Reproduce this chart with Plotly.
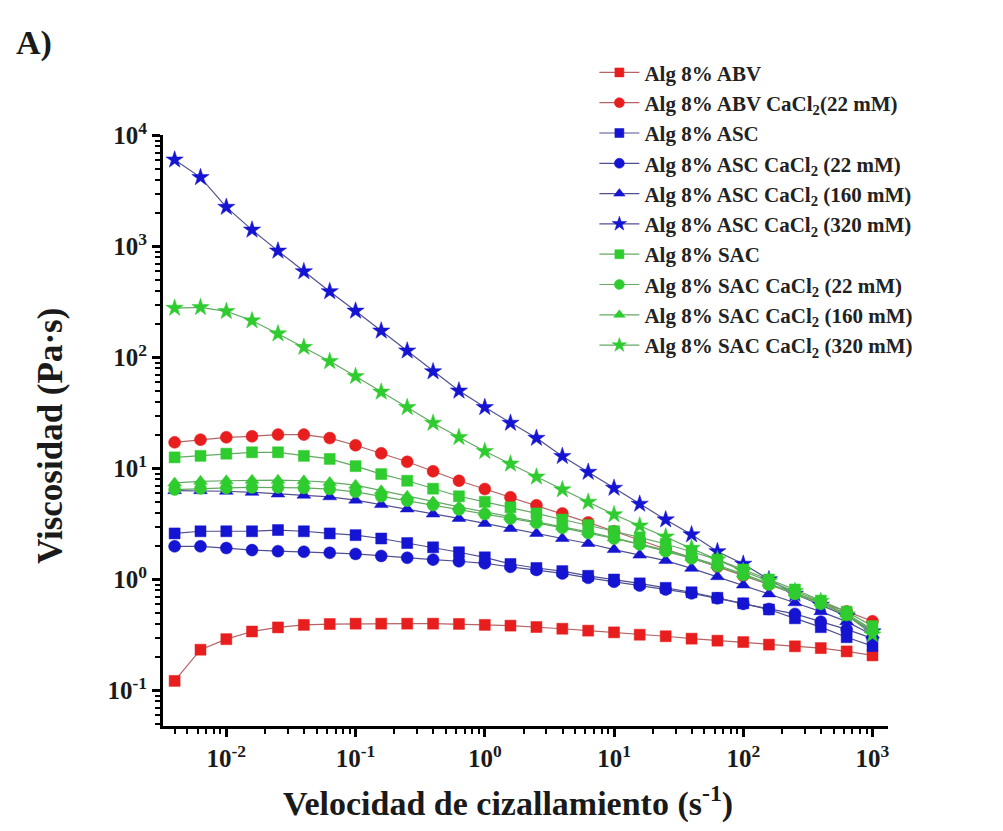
import plotly.graph_objects as go

shear_rate = [0.00398, 0.00631, 0.01, 0.0158, 0.0251, 0.0398, 0.0631, 0.1, 0.158, 0.251,
              0.398, 0.631, 1.0, 1.58, 2.51, 3.98, 6.31, 10, 15.8, 25.1,
              39.8, 63.1, 100, 158, 251, 398, 631, 1000]

abv = [0.122, 0.233, 0.29, 0.34, 0.37, 0.39, 0.397, 0.40, 0.40, 0.40, 0.40, 0.398, 0.39, 0.384,
       0.373, 0.36, 0.346, 0.334, 0.318, 0.308, 0.293, 0.281, 0.273, 0.259, 0.25, 0.241, 0.225, 0.207]
abv_ca22 = [17.2, 18.2, 19.1, 19.5, 20.2, 20.2, 18.8, 16.2, 13.7, 11.5, 9.44, 7.76, 6.53, 5.51,
            4.66, 3.94, 3.27, 2.72, 2.26, 1.88, 1.57, 1.30, 1.08, 0.902, 0.750, 0.624, 0.516, 0.420]
asc = [2.60, 2.72, 2.72, 2.72, 2.79, 2.72, 2.60, 2.51, 2.34, 2.13, 1.95, 1.76, 1.585, 1.38,
       1.27, 1.19, 1.08, 1.0, 0.923, 0.841, 0.767, 0.684, 0.610, 0.537, 0.447, 0.372, 0.302, 0.251]
asc_ca22 = [1.99, 1.99, 1.92, 1.84, 1.80, 1.78, 1.74, 1.70, 1.63, 1.57, 1.51, 1.46, 1.40, 1.30,
            1.22, 1.135, 1.035, 0.955, 0.881, 0.813, 0.750, 0.676, 0.603, 0.543, 0.490, 0.417, 0.355, 0.295]
asc_ca160 = [6.31, 6.31, 6.24, 6.10, 5.89, 5.75, 5.56, 5.19, 4.73, 4.32, 3.89, 3.55, 3.20, 2.88,
             2.60, 2.34, 2.11, 1.86, 1.66, 1.48, 1.26, 1.06, 0.891, 0.741, 0.617, 0.513, 0.417, 0.316]
asc_ca320 = [6050, 4200, 2265, 1413, 914, 596, 394, 263, 174, 115, 74.8, 50.1, 35.6, 25.7,
             18.8, 12.9, 9.29, 6.67, 4.79, 3.46, 2.54, 1.79, 1.38, 1.0, 0.741, 0.589, 0.468, 0.339]
sac = [12.6, 13.0, 13.6, 14.0, 14.0, 13.0, 12.2, 10.5, 8.91, 7.76, 6.58, 5.62, 5.01, 4.47,
       3.94, 3.47, 3.09, 2.72, 2.40, 2.09, 1.78, 1.51, 1.23, 1.0, 0.813, 0.646, 0.513, 0.380]
sac_ca22 = [6.46, 6.61, 6.68, 6.76, 6.76, 6.68, 6.53, 6.17, 5.62, 5.13, 4.68, 4.27, 3.89, 3.55,
            3.24, 2.92, 2.63, 2.34, 2.07, 1.80, 1.55, 1.32, 1.10, 0.902, 0.741, 0.603, 0.479, 0.347]
sac_ca160 = [7.41, 7.67, 7.76, 7.85, 7.85, 7.76, 7.50, 7.08, 6.31, 5.62, 5.01, 4.52, 4.07, 3.67,
             3.31, 2.99, 2.69, 2.37, 2.09, 1.84, 1.585, 1.35, 1.12, 0.923, 0.759, 0.617, 0.490, 0.355]
sac_ca320 = [279, 283, 261, 215, 164, 124, 92.5, 67.8, 49.0, 35.6, 25.7, 19.1, 14.3, 11.0,
             8.41, 6.46, 4.99, 3.85, 3.05, 2.43, 1.92, 1.51, 1.19, 0.964, 0.783, 0.637, 0.482, 0.318]

series_names = [
    "Alg 8% ABV",
    "Alg 8% ABV CaCl<sub>2</sub>(22 mM)",
    "Alg 8% ASC",
    "Alg 8% ASC CaCl<sub>2</sub> (22 mM)",
    "Alg 8% ASC CaCl<sub>2</sub> (160 mM)",
    "Alg 8% ASC CaCl<sub>2</sub> (320 mM)",
    "Alg 8% SAC",
    "Alg 8% SAC CaCl<sub>2</sub> (22 mM)",
    "Alg 8% SAC CaCl<sub>2</sub> (160 mM)",
    "Alg 8% SAC CaCl<sub>2</sub> (320 mM)",
]
series_values = [abv, abv_ca22, asc, asc_ca22, asc_ca160, asc_ca320,
                 sac, sac_ca22, sac_ca160, sac_ca320]

x_tickvals = [0.01, 0.1, 1, 10, 100, 1000]
x_ticktext = ["10<sup>-2</sup>", "10<sup>-1</sup>", "10<sup>0</sup>", "10<sup>1</sup>",
              "10<sup>2</sup>", "10<sup>3</sup>"]
y_tickvals = [0.1, 1, 10, 100, 1000, 10000]
y_ticktext = ["10<sup>-1</sup>", "10<sup>0</sup>", "10<sup>1</sup>", "10<sup>2</sup>",
              "10<sup>3</sup>", "10<sup>4</sup>"]

RED, BLUE, GREEN = "#e81e1e", "#1414d2", "#2ecc2e"
RED_L, BLUE_L, GREEN_L = "#b46464", "#505090", "#64a864"
styles = [
    (RED, RED_L, "square", 11, 9),
    (RED, RED_L, "circle", 12, 10),
    (BLUE, BLUE_L, "square", 11, 9),
    (BLUE, BLUE_L, "circle", 12, 10),
    (BLUE, BLUE_L, "triangle-up", 12, 10),
    (BLUE, BLUE_L, "star", 13, 11),
    (GREEN, GREEN_L, "square", 11, 9),
    (GREEN, GREEN_L, "circle", 12, 10),
    (GREEN, GREEN_L, "triangle-up", 12, 10),
    (GREEN, GREEN_L, "star", 13, 11),
]

FONT = "Liberation Serif, Times New Roman, serif"
TXT = "#1a1a1a"

fig = go.Figure()
for i, (name, vals, (mc, lc, sym, sz, lsz)) in enumerate(zip(series_names, series_values, styles)):
    fig.add_trace(go.Scatter(
        x=shear_rate, y=vals, name=name, mode="lines+markers", legendgroup=f"g{i}",
        showlegend=False,
        line=dict(color=lc, width=1.2),
        marker=dict(symbol=sym, size=sz, color=mc, line=dict(color=mc, width=0.5)),
    ))
for i, (name, (mc, lc, sym, sz, lsz)) in enumerate(zip(series_names, styles)):
    fig.add_trace(go.Scatter(
        x=[None], y=[None], name=name, mode="lines+markers", legendgroup=f"g{i}",
        showlegend=True,
        line=dict(color=lc, width=1.2),
        marker=dict(symbol=sym, size=lsz, color=mc, line=dict(color=mc, width=0.5)),
    ))

def minor_vals(lo, hi):
    out = []
    for e in range(lo, hi):
        for k in range(2, 10):
            out.append(k * 10.0 ** e)
    return out

fig.update_layout(
    width=1003, height=831,
    paper_bgcolor="white", plot_bgcolor="white",
    margin=dict(l=155, r=123, t=127, b=113),
    font=dict(family=FONT, color=TXT),
    showlegend=True,
    legend=dict(x=0.595, y=1.14, xanchor="left", yanchor="top",
                bgcolor="rgba(0,0,0,0)",
                font=dict(family=FONT, size=21, color="#222222", weight="bold"),
                itemwidth=40, tracegroupgap=0, traceorder="normal"),
    xaxis=dict(type="log", range=[-2.49, 3.12], showgrid=False, zeroline=False,
               showline=True, linecolor="black", linewidth=3,
               ticks="outside", ticklen=8, tickwidth=2.5, tickcolor="black",
               tickvals=x_tickvals, ticktext=x_ticktext,
               tickfont=dict(family=FONT, size=25, color=TXT, weight="bold"),
               minor=dict(tickvals=minor_vals(-3, 3), ticks="outside", ticklen=5,
                          tickwidth=2, tickcolor="black")),
    yaxis=dict(type="log", range=[-1.32, 4.005], showgrid=False, zeroline=False,
               showline=True, linecolor="black", linewidth=3,
               ticks="outside", ticklen=8, tickwidth=2.5, tickcolor="black",
               tickvals=y_tickvals, ticktext=y_ticktext,
               tickfont=dict(family=FONT, size=25, color=TXT, weight="bold"),
               minor=dict(tickvals=minor_vals(-2, 4), ticks="outside", ticklen=5,
                          tickwidth=2, tickcolor="black")),
    annotations=[
        dict(text="<b>A)</b>", xref="paper", yref="paper", x=-0.205, y=1.155,
             xanchor="left", yanchor="middle", showarrow=False,
             font=dict(family=FONT, size=34, color=TXT)),
        dict(text="<b>Viscosidad (Pa·s)</b>", xref="paper", yref="paper", x=-0.155, y=0.49,
             xanchor="center", yanchor="middle", textangle=-90, showarrow=False,
             font=dict(family=FONT, size=35, color=TXT)),
        dict(text="<b>Velocidad de cizallamiento (s<sup>-1</sup>)</b>", xref="paper", yref="paper",
             x=0.476, y=-0.127, xanchor="center", yanchor="middle", showarrow=False,
             font=dict(family=FONT, size=34, color=TXT)),
    ],
)

fig.write_html("out.html")
